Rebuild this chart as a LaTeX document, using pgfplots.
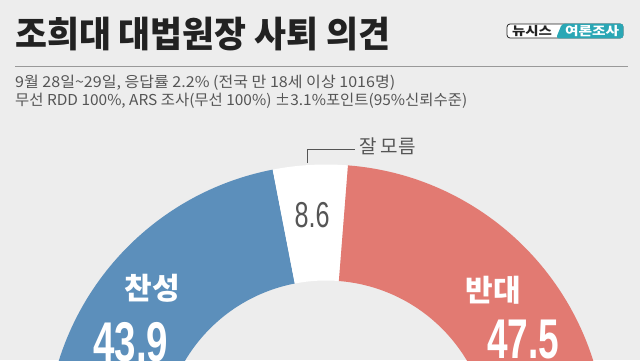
\documentclass[border=0pt]{standalone}
\usepackage{pgfplots}
\pgfplotsset{compat=1.18}
\usepackage{pgfplotstable}
\usepackage{graphicx}
\usepackage{fontspec}
\setmainfont{Liberation Sans}
\newfontfamily\kr{Noto Sans CJK KR}
\definecolor{bgc}{HTML}{EDEDED}
\definecolor{cblue}{HTML}{5C8FBB}
\definecolor{cred}{HTML}{E27A72}
\definecolor{cteal}{HTML}{2AA7B5}
\definecolor{ctxt}{HTML}{222222}
\definecolor{cgray}{HTML}{555555}

\pgfplotstableread{
cat value
0 43.9
1 8.6
2 47.5
}\poll

\begin{document}
\begin{tikzpicture}
\pgfplotstablegetelem{0}{value}\of\poll \pgfmathsetmacro\vA{\pgfplotsretval}
\pgfplotstablegetelem{1}{value}\of\poll \pgfmathsetmacro\vB{\pgfplotsretval}
\pgfplotstablegetelem{2}{value}\of\poll \pgfmathsetmacro\vC{\pgfplotsretval}
\pgfmathsetmacro\tot{\vA+\vB+\vC}
\pgfmathsetmacro\aA{180-180*\vA/\tot}
\pgfmathsetmacro\aB{\aA-180*\vB/\tot}
\begin{axis}[at={(0,0)}, anchor=south west, scale only axis,
  width=640pt, height=360pt, xmin=0, xmax=640, ymin=0, ymax=360,
  hide axis, clip=true]
\fill[bgc] (axis cs:0,0) rectangle (axis cs:640,360);
% donut segments from the data
\fill[cblue, shift={(axis cs:326,-84.5)}] (180:280pt) arc[start angle=180, end angle=\aA, radius=280pt] -- (\aA:164pt) arc[start angle=\aA, end angle=180, radius=164pt] -- cycle;
\fill[white, shift={(axis cs:326,-84.5)}] (\aA:280pt) arc[start angle=\aA, end angle=\aB, radius=280pt] -- (\aB:164pt) arc[start angle=\aB, end angle=\aA, radius=164pt] -- cycle;
\fill[cred, shift={(axis cs:326,-84.5)}] (\aB:280pt) arc[start angle=\aB, end angle=0, radius=280pt] -- (0:164pt) arc[start angle=0, end angle=\aB, radius=164pt] -- cycle;
% title
\node[anchor=west, inner sep=0, text=ctxt] at (axis cs:15,326) {\kr\bfseries\fontsize{36}{36}\selectfont\resizebox{375pt}{\height}{조희대 대법원장 사퇴 의견}};
% badge
\fill[white, draw=ctxt, line width=0.8pt, rounded corners=3pt] (axis cs:507,322) rectangle (axis cs:623,336);
\fill[cteal, rounded corners=3pt] (axis cs:556,321.6) -- (axis cs:562,336.4) -- (axis cs:623.4,336.4) -- (axis cs:623.4,321.6) -- cycle;
\node[inner sep=0, text=ctxt] at (axis cs:532,329) {\kr\bfseries\fontsize{12}{12}\selectfont\resizebox{40pt}{\height}{뉴시스}};
\node[inner sep=0, text=white] at (axis cs:592,329) {\kr\bfseries\fontsize{12}{12}\selectfont\resizebox{54pt}{\height}{여론조사}};
% rule
\draw[color=gray!80, line width=1pt] (axis cs:15,294) -- (axis cs:628,294);
% subtitles
\node[anchor=west, inner sep=0, text=cgray] at (axis cs:15,277) {\kr\fontsize{15}{15}\selectfont\resizebox{380pt}{\height}{9월 28일\textasciitilde 29일, 응답률 2.2\% (전국 만 18세 이상 1016명)}};
\node[anchor=west, inner sep=0, text=cgray] at (axis cs:15,259) {\kr\fontsize{15}{15}\selectfont\resizebox{452pt}{\height}{무선 RDD 100\%, ARS 조사(무선 100\%) ±3.1\%포인트(95\%신뢰수준)}};
% don't know label
\draw[color=cgray, line width=0.9pt] (axis cs:307,197) -- (axis cs:307,211) -- (axis cs:355,211);
\node[anchor=west, inner sep=0, text=cgray] at (axis cs:359,214) {\kr\fontsize{19}{19}\selectfont 잘 모름};
\node[inner sep=0, text=cgray] at (axis cs:312,145) {\fontsize{36}{36}\selectfont\resizebox{35pt}{\height}{\vB}};
% category labels
\node[inner sep=0, text=white] at (axis cs:152,72) {\kr\bfseries\fontsize{30}{30}\selectfont 찬성};
\node[inner sep=0, text=white] at (axis cs:493,70) {\kr\bfseries\fontsize{30}{30}\selectfont 반대};
\node[anchor=base west, inner sep=0, text=white] at (axis cs:93,-1) {\bfseries\fontsize{56}{56}\selectfont\resizebox{75pt}{\height}{\vA}};
\node[anchor=base west, inner sep=0, text=white] at (axis cs:487,2) {\bfseries\fontsize{56}{56}\selectfont\resizebox{72pt}{\height}{\vC}};
\end{axis}
\pgfresetboundingbox
\path (0,0) rectangle (640pt,360pt);
\end{tikzpicture}
\end{document}
